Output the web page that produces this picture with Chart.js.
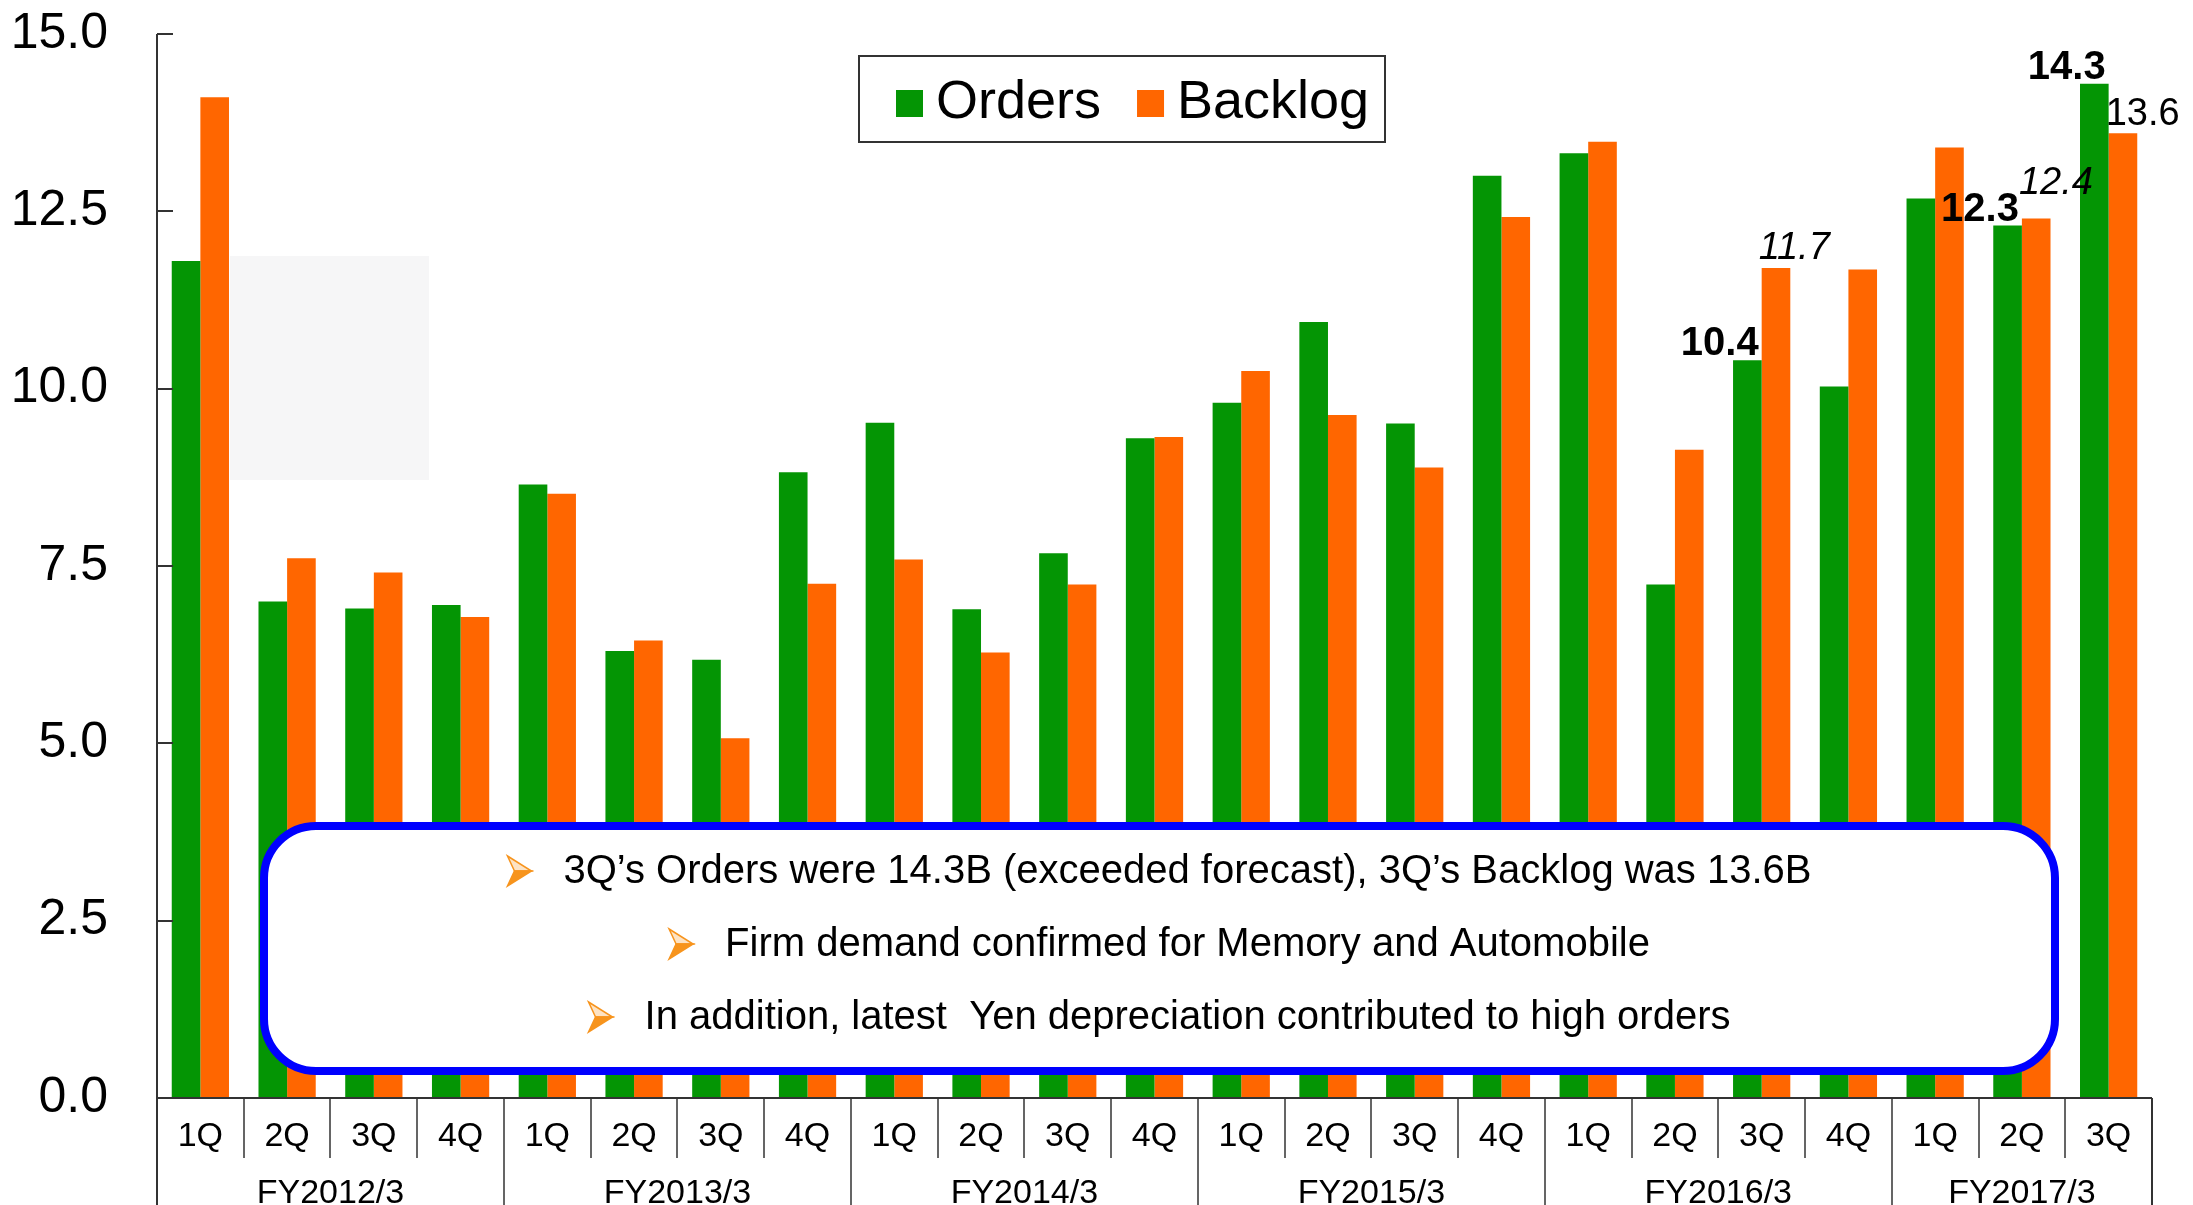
<!DOCTYPE html>
<html>
<head>
<meta charset="utf-8">
<script src="https://cdn.jsdelivr.net/npm/chart.js@4.4.1/dist/chart.umd.min.js"></script>
<style>
  html, body { margin: 0; padding: 0; background: #fff; }
  canvas { display: block; }
</style>
</head>
<body>
<canvas id="chart" width="2193" height="1205"></canvas>
<script>
const QUARTERS = ['1Q','2Q','3Q','4Q', '1Q','2Q','3Q','4Q', '1Q','2Q','3Q','4Q',
                  '1Q','2Q','3Q','4Q', '1Q','2Q','3Q','4Q', '1Q','2Q','3Q'];
const FISCAL_YEARS = ['FY2012/3','FY2013/3','FY2014/3','FY2015/3','FY2016/3','FY2017/3'];
const QUARTERS_PER_YEAR = [4, 4, 4, 4, 4, 3];

const ORDERS  = [11.8, 7.0, 6.9, 6.95, 8.65, 6.3, 6.18, 8.82, 9.52, 6.89, 7.68, 9.3,
                 9.8, 10.94, 9.51, 13.0, 13.32, 7.24, 10.4, 10.03, 12.68, 12.3, 14.3];
const BACKLOG = [14.11, 7.61, 7.41, 6.78, 8.52, 6.45, 5.07, 7.25, 7.59, 6.28, 7.24, 9.32,
                 10.25, 9.63, 8.89, 12.42, 13.48, 9.14, 11.7, 11.68, 13.4, 12.4, 13.6];

const Y_TICKS = [0, 2.5, 5, 7.5, 10, 12.5, 15];

// bars that carry a value label
const LABELLED_ORDERS = [18, 21, 22];
const LABELLED_BACKLOG = [18, 21, 22];

const NOTES = [
  '3Q\u2019s Orders were 14.3B (exceeded forecast), 3Q\u2019s Backlog was 13.6B',
  'Firm demand confirmed for Memory and Automobile',
  'In addition, latest  Yen depreciation contributed to high orders'
];

const FONT = "'Liberation Sans', Arial, sans-serif";
const GREEN = '#049504';
const ORANGE = '#ff6600';
const AXIS = '#333333';

// faint grey patch behind the first bars
const backdrop = {
  id: 'backdrop',
  beforeDatasetsDraw(chart) {
    const ctx = chart.ctx;
    ctx.save();
    ctx.fillStyle = '#f6f6f7';
    ctx.fillRect(230, 256, 199, 224);
    ctx.restore();
  }
};

// axes, tick marks, two level category labels
const axes = {
  id: 'axes',
  afterDatasetsDraw(chart) {
    const ctx = chart.ctx;
    const x = chart.scales.x;
    const y = chart.scales.y;
    const area = chart.chartArea;
    const H = chart.height;

    ctx.save();
    ctx.strokeStyle = AXIS;
    ctx.lineWidth = 2;

    // y axis line + inward ticks
    ctx.beginPath();
    ctx.moveTo(area.left, area.top);
    ctx.lineTo(area.left, H);
    for (let i = 0; i < Y_TICKS.length; ++i) {
      let py = Math.round(y.getPixelForValue(Y_TICKS[i]));
      ctx.moveTo(area.left, py);
      ctx.lineTo(area.left + 16, py);
    }
    // x axis
    ctx.moveTo(area.left, area.bottom);
    ctx.lineTo(area.right, area.bottom);
    ctx.moveTo(area.right, area.bottom);
    ctx.lineTo(area.right, H);
    ctx.stroke();

    // separators
    ctx.lineWidth = 1.5;
    let yearEnds = [];
    let acc = 0;
    for (let i = 0; i < QUARTERS_PER_YEAR.length; ++i) {
      acc += QUARTERS_PER_YEAR[i];
      yearEnds.push(acc);
    }
    ctx.beginPath();
    for (let i = 1; i < QUARTERS.length; ++i) {
      let px = Math.round((x.getPixelForValue(i - 1) + x.getPixelForValue(i)) / 2);
      let isYear = yearEnds.indexOf(i) >= 0;
      ctx.moveTo(px, area.bottom);
      ctx.lineTo(px, isYear ? H : area.bottom + 60);
    }
    ctx.stroke();

    // quarter labels
    ctx.fillStyle = '#000';
    ctx.font = `34px ${FONT}`;
    ctx.textAlign = 'center';
    ctx.textBaseline = 'middle';
    for (let i = 0; i < QUARTERS.length; ++i) {
      ctx.fillText(QUARTERS[i], x.getPixelForValue(i), area.bottom + 39);
    }

    // fiscal year labels
    ctx.textBaseline = 'alphabetic';
    let start = 0;
    for (let i = 0; i < FISCAL_YEARS.length; ++i) {
      let end = start + QUARTERS_PER_YEAR[i] - 1;
      let cx = (x.getPixelForValue(start) + x.getPixelForValue(end)) / 2;
      ctx.fillText(FISCAL_YEARS[i], cx, H - 2);
      start = end + 1;
    }
    ctx.restore();
  }
};

// value labels above selected bars
const valueLabels = {
  id: 'valueLabels',
  afterDatasetsDraw(chart) {
    const ctx = chart.ctx;
    const greenBars = chart.getDatasetMeta(0).data;
    const orangeBars = chart.getDatasetMeta(1).data;
    ctx.save();
    ctx.fillStyle = '#000';
    ctx.textBaseline = 'alphabetic';

    ctx.font = `bold 40px ${FONT}`;
    ctx.textAlign = 'right';
    for (let i = 0; i < LABELLED_ORDERS.length; ++i) {
      let idx = LABELLED_ORDERS[i];
      let bar = greenBars[idx];
      ctx.fillText(ORDERS[idx].toFixed(1), bar.x + bar.width / 2 - 3, bar.y - 5);
    }

    const styles = ['italic ', 'italic ', ''];
    const lifts = [9, 24, 8];
    ctx.textAlign = 'left';
    for (let i = 0; i < LABELLED_BACKLOG.length; ++i) {
      let idx = LABELLED_BACKLOG[i];
      let bar = orangeBars[idx];
      ctx.font = `${styles[i]}38px ${FONT}`;
      ctx.fillText(BACKLOG[idx].toFixed(1), bar.x - bar.width / 2 - 3, bar.y - lifts[i]);
    }
    ctx.restore();
  }
};

// boxed legend near the top
const boxLegend = {
  id: 'boxLegend',
  afterDraw(chart) {
    const ctx = chart.ctx;
    ctx.save();
    ctx.strokeStyle = AXIS;
    ctx.lineWidth = 2;
    ctx.strokeRect(859, 56, 526, 86);

    ctx.font = `54px ${FONT}`;
    ctx.textAlign = 'left';
    ctx.textBaseline = 'alphabetic';
    let cx = 896;
    chart.data.datasets.forEach(ds => {
      ctx.fillStyle = ds.backgroundColor;
      ctx.fillRect(cx, 90, 27, 27);
      ctx.fillStyle = '#000';
      ctx.fillText(ds.label, cx + 40, 118);
      cx += 40 + ctx.measureText(ds.label).width + 36;
    });
    ctx.restore();
  }
};

function drawBullet(ctx, x, y) {
  ctx.lineJoin = 'miter';
  ctx.lineWidth = 1.5;
  ctx.strokeStyle = '#f7941d';
  ctx.beginPath();
  ctx.moveTo(x, y - 15);
  ctx.lineTo(x + 24, y);
  ctx.lineTo(x + 7, y);
  ctx.closePath();
  ctx.fillStyle = '#fde3c4';
  ctx.fill();
  ctx.stroke();
  ctx.beginPath();
  ctx.moveTo(x + 7, y);
  ctx.lineTo(x + 24, y);
  ctx.lineTo(x, y + 15);
  ctx.closePath();
  ctx.fillStyle = '#f7941d';
  ctx.fill();
  ctx.stroke();
}

// rounded blue note box over the lower part of the plot
const noteBox = {
  id: 'noteBox',
  afterDraw(chart) {
    const ctx = chart.ctx;
    const bx = 264, by = 826, bw = 1791, bh = 245;
    ctx.save();
    ctx.beginPath();
    ctx.roundRect(bx, by, bw, bh, 52);
    ctx.fillStyle = '#fff';
    ctx.fill();
    ctx.lineWidth = 8;
    ctx.strokeStyle = '#0000ff';
    ctx.stroke();

    ctx.font = `40px ${FONT}`;
    ctx.textAlign = 'left';
    ctx.textBaseline = 'middle';
    const lineY = [871, 944, 1017];
    const centerX = bx + bw / 2;
    for (let i = 0; i < NOTES.length; ++i) {
      let tw = ctx.measureText(NOTES[i]).width;
      let total = 24 + 32 + tw;
      let sx = centerX - total / 2;
      drawBullet(ctx, sx, lineY[i]);
      ctx.fillStyle = '#000';
      ctx.fillText(NOTES[i], sx + 56, lineY[i] + 1);
    }
    ctx.restore();
  }
};

new Chart(document.getElementById('chart'), {
  type: 'bar',
  data: {
    labels: QUARTERS,
    datasets: [
      { label: 'Orders', data: ORDERS, backgroundColor: GREEN, borderWidth: 0 },
      { label: 'Backlog', data: BACKLOG, backgroundColor: ORANGE, borderWidth: 0 }
    ]
  },
  options: {
    responsive: false,
    animation: false,
    devicePixelRatio: 1,
    categoryPercentage: 0.66,
    barPercentage: 1.0,
    layout: { padding: { top: 34, right: 41, left: 0, bottom: 0 } },
    plugins: {
      legend: { display: false },
      tooltip: { enabled: false }
    },
    scales: {
      x: {
        grid: { display: false, drawTicks: false },
        border: { display: false },
        ticks: { display: false },
        afterFit: s => { s.height = 107; s.paddingLeft = 0; s.paddingRight = 0; }
      },
      y: {
        min: 0,
        max: 15,
        grid: { display: false, drawTicks: false },
        border: { display: false },
        ticks: {
          stepSize: 2.5,
          padding: 49,
          color: '#000',
          font: { family: FONT, size: 50 },
          callback: v => v.toFixed(1)
        },
        afterFit: s => { s.width = 157; s.paddingTop = 0; s.paddingBottom = 0; }
      }
    }
  },
  plugins: [backdrop, axes, valueLabels, boxLegend, noteBox]
});
</script>
</body>
</html>
